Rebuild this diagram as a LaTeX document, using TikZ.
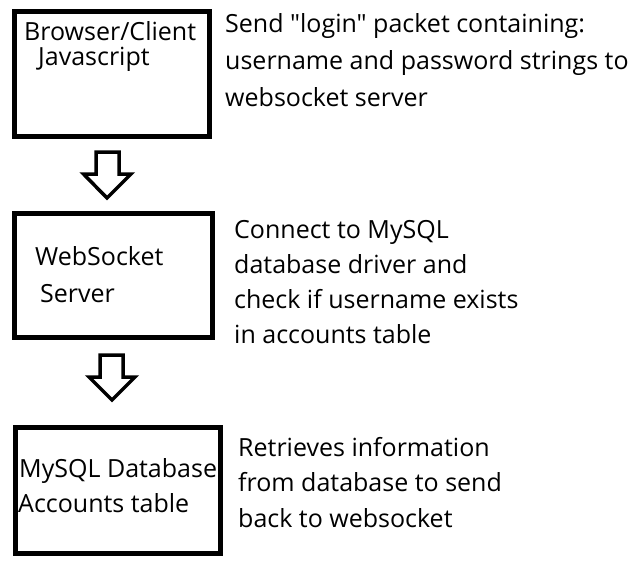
\documentclass[tikz,border=0pt]{standalone}
\usepackage{fontspec}
\setmainfont{Open Sans}[Ligatures=TeXOff]
\begin{document}
\begin{tikzpicture}[x=1pt,y=-1pt,
  box/.style={draw=black,line width=5pt,inner sep=0pt},
  lbl/.style={anchor=base west,inner sep=0pt,font=\fontsize{25}{29}\selectfont},
  bigarrow/.style={draw=black,line width=3.5pt,line join=miter,fill=white}]
\useasboundingbox (0,0) rectangle (639,586);
% boxes
\node[box,minimum width=195pt,minimum height=125pt] (b1) at (112,74) {};
\node[box,minimum width=198pt,minimum height=124pt] (b2) at (113.5,275.5) {};
\node[box,minimum width=205pt,minimum height=126pt] (b3) at (118,490.5) {};
% box texts
\node[lbl] (t1a) at (24,41) {Browser/Client};
\node[lbl] (t1b) at (38,65) {Javascript};
\node[lbl] (t2a) at (35,265) {WebSocket};
\node[lbl] (t2b) at (40,302) {Server};
\node[lbl] (t3a) at (19,477) {MySQL Database};
\node[lbl] (t3b) at (18,512) {Accounts table};
% descriptions
\node[lbl] (d1a) at (225,33) {Send "login" packet containing:};
\node[lbl] (d1b) at (225,70) {username and password strings to};
\node[lbl] (d1c) at (225,106) {websocket server};
\node[lbl] (d2a) at (234,238) {Connect to MySQL};
\node[lbl] (d2b) at (234,273) {database driver and};
\node[lbl] (d2c) at (234,308) {check if username exists};
\node[lbl] (d2d) at (234,343) {in accounts table};
\node[lbl] (d3a) at (238,456) {Retrieves information};
\node[lbl] (d3b) at (238,491) {from database to send};
\node[lbl] (d3c) at (238,527) {back to websocket};
% arrows
\coordinate (a1) at (107,152);
\draw[bigarrow] (96,152) -- (119,152) -- (119,174) -- (131,174) -- (107,198) -- (83.5,174) -- (96,174) -- cycle;
\coordinate (a2) at (112,355);
\draw[bigarrow] (100,355) -- (123,355) -- (123,377) -- (135,377) -- (112,400) -- (89,377) -- (100,377) -- cycle;
\end{tikzpicture}
\end{document}
